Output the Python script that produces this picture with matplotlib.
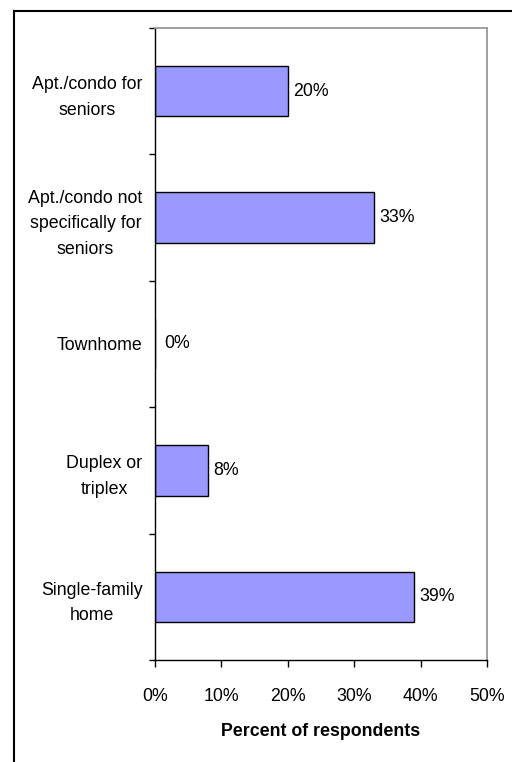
import matplotlib
matplotlib.use("Agg")
import matplotlib.pyplot as plt
from matplotlib.lines import Line2D

categories = [
    "Single-family\nhome",
    "Duplex or\ntriplex",
    "Townhome",
    "Apt./condo not\nspecifically for\nseniors",
    "Apt./condo for\nseniors",
]
percents = [39, 8, 0, 33, 20]
xticks = [0, 10, 20, 30, 40, 50]

plt.rcParams['font.family'] = ['Liberation Sans', 'DejaVu Sans']
FS = 12.8

W, H = 512, 762
fig = plt.figure(figsize=(W / 100, H / 100), dpi=100)
ax = fig.add_axes([155 / W, 1 - 660 / H, (487 - 155) / W, (660 - 28) / H])

ypos = list(range(len(categories)))
ax.barh(ypos, percents, height=0.4, color="#9999FF", edgecolor="black", linewidth=1.0)

for y, v in zip(ypos, percents):
    ax.annotate(f"{v}%", (v, y), xytext=(5 if v else 9, 0), textcoords="offset pixels",
                va="center", ha="left", fontsize=FS)

ax.set_xlim(0, 50)
ax.set_ylim(-0.5, len(categories) - 0.5)
ax.set_xticks(xticks)
ax.set_xticklabels([f"{t}%" for t in xticks], fontsize=FS)

# category ticks sit between the bars, labels at bar centres
ax.set_yticks([y - 0.5 for y in ypos] + [len(categories) - 0.5])
ax.set_yticklabels([])
ax.set_yticks(ypos, minor=True)
ax.set_yticklabels(categories, minor=True, fontsize=FS, multialignment="center",
                   linespacing=1.65)
ax.tick_params(axis="y", which="minor", length=0, pad=9)
ax.tick_params(axis="y", which="major", length=4, width=1, direction="out")
ax.tick_params(axis="x", length=5, width=1, direction="out", pad=15)

ax.set_xlabel("Percent of respondents", fontsize=FS, fontweight="bold", labelpad=13)

for side in ("left", "bottom"):
    ax.spines[side].set_color("black")
    ax.spines[side].set_linewidth(1.0)
for side in ("top", "right"):
    ax.spines[side].set_color("#999999")
    ax.spines[side].set_linewidth(1.3)

# outer chart border, running off the right and bottom edges
fx = 13.5 / W
fy = 1 - 10.5 / H
fig.add_artist(Line2D([fx, fx], [0, fy], transform=fig.transFigure, color="black", lw=1.5))
fig.add_artist(Line2D([fx, 1], [fy, fy], transform=fig.transFigure, color="black", lw=1.5))

fig.savefig("out.png", dpi=100)
